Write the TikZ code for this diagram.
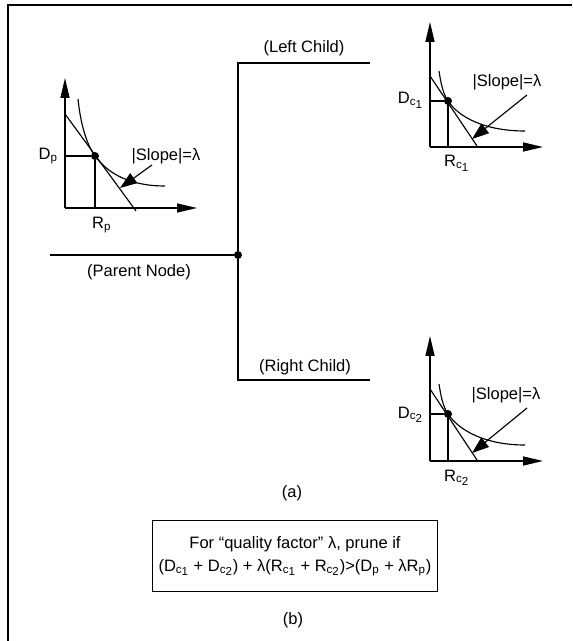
\documentclass[tikz,border=0pt]{standalone}
\usepackage{fontspec}
\setmainfont{Liberation Sans}
\usetikzlibrary{arrows.meta}

\newcommand{\csub}[2]{\textsubscript{#1\raisebox{-0.4ex}{#2}}}

\begin{document}
\begin{tikzpicture}[
        x=0.02cm, y=-0.02cm,
        every node/.style={font=\fontsize{9.4}{13.5}\selectfont, inner sep=1pt},
        thinline/.style={line width=0.65pt},
        axis/.style={line width=0.8pt, -{Triangle[length=0.4cm,width=0.18cm]}},
        slopearrow/.style={line width=0.65pt, -{Triangle[length=0.34cm,width=0.24cm]}},
        opdot/.style={circle, fill=black, minimum size=0.16cm, inner sep=0pt},
        junction/.style={circle, fill=black, minimum size=0.16cm, inner sep=0pt}
    ]
    \useasboundingbox (0,0) rectangle (572,641);

    % Rahmen
    \draw[line width=0.9pt] (572,5) -- (8,5) -- (8,641);

    % Baum
    \coordinate (pstart) at (50,255);
    \node[junction] (jn) at (238,255) {};
    \coordinate (lcturn) at (238,63);
    \coordinate (rcturn) at (238,380);
    \coordinate (lcend)  at (370,63);
    \coordinate (rcend)  at (370,380);
    \draw[thinline] (pstart) -- (jn);
    \draw[thinline] (jn) -- (lcturn) -- (lcend);
    \draw[thinline] (jn) -- (rcturn) -- (rcend);
    \node (pname)  at (139,272) {(Parent Node)};
    \node (lcname) at (304,48)  {(Left Child)};
    \node (rcname) at (305,367) {(Right Child)};

    % Elternknoten
    \coordinate (po) at (65,208);
    \coordinate (py) at (65,78);
    \coordinate (px) at (197,208);
    \draw[axis] (po) -- (py);
    \draw[axis] (po) -- (px);
    \node[opdot] (pdot) at (95,156) {};
    \draw[thinline] (65,156) -- (pdot) -- (95,208);
    \draw[thinline] (65,114) -- (136,211);
    \draw[thinline] (78,99) .. controls (81,128) and (88,146.5) .. (95,156)
        .. controls (108,173.7) and (130,186) .. (165,186);
    \node[anchor=base east] (pD) at (60,160) {D\textsubscript{p}};
    \node[anchor=base west] (pR) at (90,229) {R\textsubscript{p}};
    \node (pslope) at (166,156) {|Slope|=λ};
    \coordinate (pfrom) at (152,165);
    \coordinate (pto) at (120,188);
    \draw[slopearrow] (pfrom) -- (pto);

    % linkes Kind
    \coordinate (lo) at (430,147);
    \coordinate (ly) at (430,22);
    \coordinate (lx) at (543,147);
    \draw[axis] (lo) -- (ly);
    \draw[axis] (lo) -- (lx);
    \node[opdot] (ldot) at (448,101) {};
    \draw[thinline] (430,101) -- (ldot) -- (448,147);
    \draw[thinline] (430,76) -- (477,146);
    \draw[thinline] (439,71) .. controls (441,84) and (443,93.6) .. (448,101)
        .. controls (459,117.4) and (485,131) .. (525,131);
    \node[anchor=base east] (lD) at (425,104) {D\csub{c}{1}};
    \node[anchor=base west] (lR) at (442,167) {R\csub{c}{1}};
    \node (lslope) at (507,82) {|Slope|=λ};
    \coordinate (lfrom) at (527,95);
    \coordinate (lto) at (472,139);
    \draw[slopearrow] (lfrom) -- (lto);

    % rechtes Kind
    \coordinate (ro) at (430,461);
    \coordinate (ry) at (430,336);
    \coordinate (rx) at (543,461);
    \draw[axis] (ro) -- (ry);
    \draw[axis] (ro) -- (rx);
    \node[opdot] (rdot) at (448,414) {};
    \draw[thinline] (430,414) -- (rdot) -- (448,461);
    \draw[thinline] (430,389) -- (477,460);
    \draw[thinline] (439,384) .. controls (441,397) and (443,406.6) .. (448,414)
        .. controls (459,430.4) and (485,445) .. (525,445);
    \node[anchor=base east] (rD) at (425,418) {D\csub{c}{2}};
    \node[anchor=base west] (rR) at (442,481) {R\csub{c}{2}};
    \node (rslope) at (506,395) {|Slope|=λ};
    \coordinate (rfrom) at (527,408);
    \coordinate (rto) at (472,453);
    \draw[slopearrow] (rfrom) -- (rto);

    % Beschriftung
    \node (alabel) at (292,493) {(a)};
    \node[draw, line width=0.7pt, minimum width=5.7cm, minimum height=1.42cm, align=center]
        (cond) at (295,556)
        {For “quality factor” λ, prune if\\
         (D\csub{c}{1} + D\csub{c}{2}) + λ(R\csub{c}{1} + R\csub{c}{2})>(D\textsubscript{p} + λR\textsubscript{p})};
    \node (blabel) at (293,620) {(b)};

\end{tikzpicture}
\end{document}
